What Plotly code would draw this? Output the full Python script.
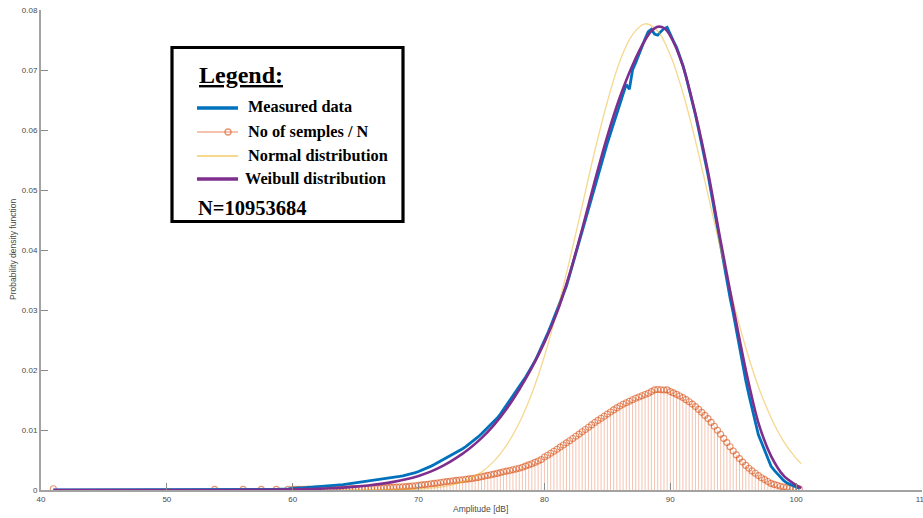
import numpy as np
import plotly.graph_objects as go

# ---------------------------------------------------------------- data
# sparse low-amplitude bins (dB) below 60 dB
tail_amp = [40.98, 53.8, 56.06, 57.5, 58.7, 59.63]
tail_frac = [0.00022, 0.00010, 0.00010, 0.00011, 0.00011, 0.00012]
tail_pdf = [0.00002, 0.00004, 0.00006, 0.00008, 0.00012, 0.00020]

# regular 0.25 dB bins from 60 dB up to 100.25 dB
bin_amp = np.arange(60.0, 100.5, 0.25)

measured_pdf = [
    0.00030, 0.00032, 0.00034, 0.00037,  # 60
    0.00040, 0.00043, 0.00046, 0.00049,  # 61
    0.00052, 0.00056, 0.00060, 0.00065,  # 62
    0.00070, 0.00074, 0.00079, 0.00085,  # 63
    0.00090, 0.00097, 0.00104, 0.00110,  # 64
    0.00118, 0.00125, 0.00133, 0.00141,  # 65
    0.00148, 0.00156, 0.00163, 0.00171,  # 66
    0.00178, 0.00186, 0.00193, 0.00201,  # 67
    0.00208, 0.00217, 0.00226, 0.00236,  # 68
    0.00247, 0.00260, 0.00274, 0.00290,  # 69
    0.00308, 0.00328, 0.00350, 0.00374,  # 70
    0.00398, 0.00424, 0.00452, 0.00480,  # 71
    0.00508, 0.00536, 0.00564, 0.00594,  # 72
    0.00626, 0.00656, 0.00688, 0.00722,  # 73
    0.00760, 0.00800, 0.00842, 0.00888,  # 74
    0.00936, 0.00986, 0.01036, 0.01088,  # 75
    0.01142, 0.01200, 0.01266, 0.01340,  # 76
    0.01418, 0.01494, 0.01570, 0.01646,  # 77
    0.01720, 0.01802, 0.01880, 0.01965,  # 78
    0.02050, 0.02150, 0.02262, 0.02370,  # 79
    0.02480, 0.02605, 0.02735, 0.02868,  # 80
    0.03000, 0.03130, 0.03245, 0.03400,  # 81
    0.03580, 0.03765, 0.03955, 0.04140,  # 82
    0.04330, 0.04520, 0.04705, 0.04895,  # 83
    0.05080, 0.05255, 0.05430, 0.05605,  # 84
    0.05780, 0.05945, 0.06110, 0.06280,  # 85
    0.06450, 0.06600, 0.06760, 0.06680,  # 86
    0.07000, 0.07120, 0.07260, 0.07400,  # 87
    0.07520, 0.07640, 0.07680, 0.07600,  # 88
    0.07580, 0.07640, 0.07690, 0.07710,  # 89
    0.07580, 0.07480, 0.07380, 0.07240,  # 90
    0.07080, 0.06890, 0.06690, 0.06470,  # 91
    0.06250, 0.06010, 0.05770, 0.05500,  # 92
    0.05250, 0.04960, 0.04660, 0.04360,  # 93
    0.04050, 0.03770, 0.03480, 0.03200,  # 94
    0.02950, 0.02650, 0.02350, 0.02080,  # 95
    0.01820, 0.01580, 0.01360, 0.01130,  # 96
    0.00920, 0.00790, 0.00660, 0.00520,  # 97
    0.00400, 0.00330, 0.00270, 0.00210,  # 98
    0.00160, 0.00120, 0.00090, 0.00070,  # 99
    0.00050, 0.00030,                    # 100
]

sample_frac = [
    0.00012, 0.00012, 0.00013, 0.00012,  # 60
    0.00013, 0.00014, 0.00013, 0.00014,  # 61
    0.00015, 0.00016, 0.00015, 0.00017,  # 62
    0.00017, 0.00018, 0.00018, 0.00019,  # 63
    0.00020, 0.00021, 0.00022, 0.00023,  # 64
    0.00024, 0.00025, 0.00027, 0.00028,  # 65
    0.00029, 0.00031, 0.00032, 0.00034,  # 66
    0.00036, 0.00038, 0.00040, 0.00043,  # 67
    0.00045, 0.00048, 0.00051, 0.00054,  # 68
    0.00057, 0.00061, 0.00066, 0.00072,  # 69
    0.00078, 0.00085, 0.00090, 0.00096,  # 70
    0.00103, 0.00110, 0.00117, 0.00125,  # 71
    0.00133, 0.00140, 0.00146, 0.00153,  # 72
    0.00160, 0.00166, 0.00172, 0.00178,  # 73
    0.00185, 0.00192, 0.00200, 0.00210,  # 74
    0.00220, 0.00232, 0.00243, 0.00254,  # 75
    0.00265, 0.00277, 0.00290, 0.00304,  # 76
    0.00315, 0.00326, 0.00338, 0.00350,  # 77
    0.00363, 0.00380, 0.00398, 0.00418,  # 78
    0.00438, 0.00460, 0.00483, 0.00507,  # 79
    0.00550, 0.00580, 0.00612, 0.00645,  # 80
    0.00680, 0.00715, 0.00750, 0.00786,  # 81
    0.00822, 0.00858, 0.00895, 0.00932,  # 82
    0.00970, 0.01008, 0.01046, 0.01085,  # 83
    0.01125, 0.01160, 0.01195, 0.01230,  # 84
    0.01265, 0.01300, 0.01335, 0.01368,  # 85
    0.01400, 0.01428, 0.01455, 0.01480,  # 86
    0.01505, 0.01528, 0.01550, 0.01572,  # 87
    0.01592, 0.01612, 0.01640, 0.01668,  # 88
    0.01676, 0.01672, 0.01666, 0.01668,  # 89
    0.01640, 0.01618, 0.01593, 0.01567,  # 90
    0.01540, 0.01506, 0.01470, 0.01432,  # 91
    0.01390, 0.01343, 0.01294, 0.01243,  # 92
    0.01190, 0.01127, 0.01062, 0.00996,  # 93
    0.00930, 0.00860, 0.00790, 0.00720,  # 94
    0.00650, 0.00585, 0.00523, 0.00465,  # 95
    0.00410, 0.00363, 0.00318, 0.00278,  # 96
    0.00240, 0.00205, 0.00173, 0.00142,  # 97
    0.00110, 0.00093, 0.00078, 0.00063,  # 98
    0.00050, 0.00042, 0.00035, 0.00028,  # 99
    0.00022, 0.00018,                    # 100
]

# fitted Weibull density
weibull_amp = [41, 45, 50, 55, 58, 60, 61, 62, 63, 64, 65, 66, 67, 68, 69,
               70, 71, 72, 73, 74, 75, 76, 77, 78, 79, 80, 81, 82, 83, 84,
               85, 86, 87, 88, 88.5, 89, 89.5, 90, 91, 92, 93, 94, 95, 96,
               97, 98, 99, 100, 100.4]
weibull_pdf = [0.0, 0.0, 0.0, 0.00001, 0.00004, 0.00010, 0.00014, 0.00020,
               0.00029, 0.00040, 0.00056, 0.00076, 0.00102, 0.00135, 0.00178,
               0.00235, 0.00310, 0.00410, 0.00535, 0.00685, 0.00865, 0.01085,
               0.01355, 0.01675, 0.02040, 0.02460, 0.02960, 0.03600, 0.04350,
               0.05150, 0.05900, 0.06550, 0.07080, 0.07500, 0.07650, 0.07720,
               0.07700, 0.07570, 0.07070, 0.06270, 0.05300, 0.04150, 0.03050,
               0.02000, 0.01120, 0.00570, 0.00240, 0.00080, 0.00030]

# fitted normal density
normal_amp = [41, 50, 60, 64, 66, 67, 68, 69, 70, 71, 72, 73, 74, 75, 76, 77,
              78, 79, 80, 81, 82, 83, 84, 85, 86, 87, 88, 89, 90, 91, 92, 93,
              94, 95, 96, 97, 98, 99, 100, 100.4]
normal_pdf = [0.0, 0.0, 0.0, 0.00001, 0.00001, 0.00002, 0.00004, 0.00008,
              0.00015, 0.00030, 0.00056, 0.00102, 0.00178, 0.00298, 0.00481,
              0.00748, 0.01120, 0.01610, 0.02230, 0.02980, 0.03830, 0.04740,
              0.05650, 0.06470, 0.07150, 0.07590, 0.07770, 0.07650, 0.07250,
              0.06620, 0.05820, 0.04920, 0.04010, 0.03140, 0.02370, 0.01720,
              0.01210, 0.00810, 0.00527, 0.00438]

x_ticks = [40, 50, 60, 70, 80, 90, 100, 110]
y_ticks = [0, 0.01, 0.02, 0.03, 0.04, 0.05, 0.06, 0.07, 0.08]
y_tick_text = ["0", "0.01", "0.02", "0.03", "0.04", "0.05", "0.06", "0.07", "0.08"]

legend_labels = ["Measured data", "No of semples / N",
                 "Normal distribution", "Weibull distribution"]
sample_count_label = "N=10953684"

# ---------------------------------------------------------------- colours
BLUE = "#0072BD"
PURPLE = "#7E2F8E"
NORMAL_YELLOW = "rgba(237,177,32,0.5)"
STEM_LINE = "rgba(225,100,50,0.38)"
STEM_MARK = "rgba(217,83,25,0.62)"

# ---------------------------------------------------------------- series
amp_all = list(tail_amp) + [float(v) for v in bin_amp]
frac_all = list(tail_frac) + list(sample_frac)
pdf_all = list(tail_pdf) + list(measured_pdf)
assert len(bin_amp) == len(measured_pdf) == len(sample_frac)

# stems: vertical segments from zero to each bin value
stem_x, stem_y = [], []
for a, f in zip(amp_all, frac_all):
    stem_x += [a, a, None]
    stem_y += [0, f, None]

fig = go.Figure()
fig.add_trace(go.Scatter(x=stem_x, y=stem_y, mode="lines",
                         line=dict(color=STEM_LINE, width=1),
                         hoverinfo="skip", showlegend=False))
fig.add_trace(go.Scatter(x=amp_all, y=frac_all, mode="markers",
                         marker=dict(symbol="circle-open", size=6,
                                     color=STEM_MARK, line=dict(width=1.1)),
                         name=legend_labels[1], showlegend=False))
fig.add_trace(go.Scatter(x=amp_all, y=pdf_all, mode="lines",
                         line=dict(color=BLUE, width=2.8),
                         name=legend_labels[0], showlegend=False))
fig.add_trace(go.Scatter(x=normal_amp, y=normal_pdf, mode="lines",
                         line=dict(color=NORMAL_YELLOW, width=1.3, shape="spline"),
                         name=legend_labels[2], showlegend=False))
fig.add_trace(go.Scatter(x=weibull_amp, y=weibull_pdf, mode="lines",
                         line=dict(color=PURPLE, width=2.6, shape="spline",
                                   smoothing=0.8),
                         name=legend_labels[3], showlegend=False))

# ---------------------------------------------------------------- layout
W, H = 923, 518
ML, MR, MT, MB = 41, 1, 10, 28
PW, PH = W - ML - MR, H - MT - MB


def px(x_pix):
    return (x_pix - ML) / PW


def py(y_pix):
    return (H - MB - y_pix) / PH


AXIS_GREY = "#a3a3a3"
SANS = "Liberation Sans, Arial, sans-serif"
TICK_FONT = dict(family=SANS, size=8, color="#4a4a4a")

fig.update_layout(
    width=W, height=H, autosize=False,
    margin=dict(l=ML, r=MR, t=MT, b=MB, autoexpand=False),
    paper_bgcolor="white", plot_bgcolor="white",
    showlegend=False,
    xaxis=dict(range=[40, 110], tickvals=x_ticks, ticks="inside", ticklen=7,
               tickcolor="#8a8a8a", tickwidth=1, showline=True,
               linecolor=AXIS_GREY, linewidth=2, showgrid=False, zeroline=False,
               tickfont=TICK_FONT, ticklabeloverflow="allow", automargin=False),
    yaxis=dict(range=[0, 0.08], tickvals=y_ticks, ticktext=y_tick_text,
               ticks="inside", ticklen=7, tickcolor="#8a8a8a", tickwidth=1,
               showline=True, linecolor=AXIS_GREY, linewidth=2, showgrid=False,
               zeroline=False, tickfont=TICK_FONT, automargin=False),
)

annotations = [
    dict(text="Amplitude [dB]", x=px(480), y=py(509), xref="paper", yref="paper",
         xanchor="center", yanchor="middle", showarrow=False,
         font=dict(family=SANS, size=8.5, color="#4a4a4a")),
    dict(text="Probability density function", x=px(13), y=py(250), xref="paper",
         yref="paper", xanchor="center", yanchor="middle", textangle=-90,
         showarrow=False, font=dict(family=SANS, size=8.5, color="#4a4a4a")),
]

# legend panel
SERIF = "Liberation Serif, Times New Roman, serif"
shapes = [
    dict(type="rect", xref="paper", yref="paper", x0=px(172), x1=px(403),
         y0=py(221.5), y1=py(47.5), line=dict(color="black", width=3.2),
         fillcolor="white", layer="above"),
]
annotations.append(dict(text="<b><u>Legend:</u></b>", x=px(197), y=py(75),
                        xref="paper", yref="paper", xanchor="left",
                        yanchor="middle", showarrow=False,
                        font=dict(family=SERIF, size=24, color="black")))

entry_rows = [108, 132, 156, 179]
entry_styles = [
    dict(color=BLUE, width=3.5),
    dict(color=STEM_LINE, width=1.8),
    dict(color=NORMAL_YELLOW, width=1.8),
    dict(color=PURPLE, width=3.5),
]
text_x = [246, 246, 246, 243]
for row, style, label, tx in zip(entry_rows, entry_styles, legend_labels, text_x):
    shapes.append(dict(type="line", xref="paper", yref="paper", x0=px(197),
                       x1=px(238), y0=py(row), y1=py(row), line=style,
                       layer="above"))
    annotations.append(dict(text="<b>%s</b>" % label, x=px(tx), y=py(row - 1),
                            xref="paper", yref="paper", xanchor="left",
                            yanchor="middle", showarrow=False,
                            font=dict(family=SERIF, size=16.3, color="black")))

# open circle on the sample-fraction entry
shapes.append(dict(type="circle", xref="paper", yref="paper",
                   xsizemode="pixel", ysizemode="pixel",
                   xanchor=px(228), yanchor=py(entry_rows[1]),
                   x0=-3, x1=3, y0=-3, y1=3,
                   line=dict(color=STEM_MARK, width=1.3), layer="above"))

annotations.append(dict(text="<b>%s</b>" % sample_count_label, x=px(196),
                        y=py(208), xref="paper", yref="paper", xanchor="left",
                        yanchor="middle", showarrow=False,
                        font=dict(family=SERIF, size=20.5, color="black")))

fig.update_layout(shapes=shapes, annotations=annotations)

fig.write_html("out.html")
